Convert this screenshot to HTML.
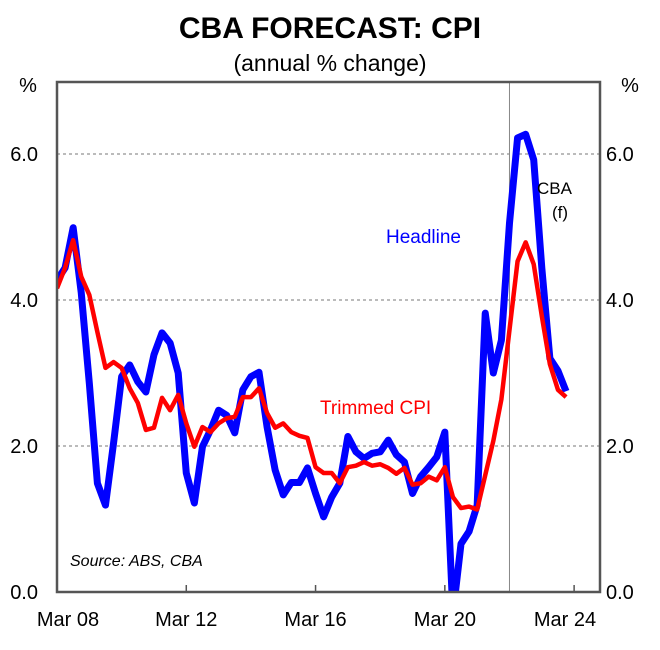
<!DOCTYPE html>
<html><head><meta charset="utf-8"><style>
body{margin:0;background:#fff;}
svg{display:block;font-family:"Liberation Sans",Arial,sans-serif;}
</style></head><body>
<svg id="chart" width="660" height="650" viewBox="0 0 660 650">
<text x="330" y="38" text-anchor="middle" font-size="30" font-weight="bold">CBA FORECAST: CPI</text>
<text x="330" y="71" text-anchor="middle" font-size="23">(annual % change)</text>
<text x="28" y="92" text-anchor="middle" font-size="20">%</text>
<text x="630" y="92" text-anchor="middle" font-size="20">%</text>
<g id="grid"></g>
<g id="ticks"></g>
<g id="series"></g>
<rect x="57" y="82" width="543" height="510" fill="none" stroke="#555" stroke-width="2.5"/>
<text x="386" y="243" font-size="19" fill="#0000ff">Headline</text>
<text x="320" y="414" font-size="19" fill="#ff0000">Trimmed CPI</text>
<text x="537" y="194" font-size="17">CBA</text>
<text x="552" y="218" font-size="17">(f)</text>
<text x="70" y="566" font-size="16" font-style="italic">Source: ABS, CBA</text>
</svg>
<script>
const headline=[4.27,4.44,4.99,4.1,2.86,1.49,1.19,2.04,2.95,3.11,2.88,2.74,3.25,3.55,3.41,3.0,1.63,1.22,1.99,2.22,2.49,2.42,2.18,2.77,2.95,3.01,2.26,1.67,1.33,1.5,1.5,1.7,1.35,1.03,1.3,1.49,2.13,1.92,1.83,1.9,1.92,2.08,1.88,1.78,1.35,1.58,1.71,1.85,2.19,-0.3,0.66,0.83,1.19,3.82,3.0,3.45,5.05,6.22,6.27,5.92,4.44,3.2,3.03,2.75];
const trimmed=[4.16,4.44,4.82,4.32,4.07,3.56,3.07,3.15,3.07,2.79,2.59,2.22,2.25,2.66,2.49,2.7,2.31,1.99,2.26,2.19,2.31,2.38,2.4,2.67,2.67,2.79,2.45,2.25,2.31,2.19,2.14,2.11,1.71,1.63,1.63,1.49,1.71,1.73,1.78,1.73,1.75,1.7,1.62,1.7,1.47,1.49,1.58,1.53,1.71,1.3,1.15,1.17,1.13,1.6,2.07,2.64,3.59,4.53,4.79,4.49,3.78,3.12,2.77,2.67];
const yTicks=[0,2,4,6];
const yTickLabels=["0.0","2.0","4.0","6.0"];
const xTickIdx=[0,16,32,48,64];
const xTickLabels=["Mar 08","Mar 12","Mar 16","Mar 20","Mar 24"];
const forecastStart=56;

const NS="http://www.w3.org/2000/svg";
const X0=57,DX=8.08,Y0=592,DY=73;
function xs(i){return X0+i*DX;}
function ys(v){return Y0-v*DY;}
function mk(tag,attrs,parent){const e=document.createElementNS(NS,tag);for(const k in attrs)e.setAttribute(k,attrs[k]);parent.appendChild(e);return e;}
const grid=document.getElementById('grid'),ticks=document.getElementById('ticks'),series=document.getElementById('series');
yTicks.forEach((v,k)=>{
  if(v>0){const g=mk('line',{x1:57,x2:600,y1:ys(v),y2:ys(v),stroke:'#777','stroke-width':1,'stroke-dasharray':'3,3'},grid);
  
  }
  const l=mk('text',{x:38,y:ys(v)+7,'text-anchor':'end','font-size':20},ticks);l.textContent=yTickLabels[k];
  
  
  const r=mk('text',{x:606,y:ys(v)+7,'font-size':20},ticks);r.textContent=yTickLabels[k];
  
  
});
xTickIdx.forEach((i,k)=>{
  const t=mk('line',{x1:xs(i),x2:xs(i),y1:592,y2:585,stroke:'#555','stroke-width':1.5},ticks);
  
  
  const l=mk('text',{x:Math.min(xs(i),565)+(k==0?11:0),y:626,'text-anchor':'middle','font-size':20},ticks);l.textContent=xTickLabels[k];
  
  
});
const fl=mk('line',{x1:xs(forecastStart),x2:xs(forecastStart),y1:82,y2:592,stroke:'#888','stroke-width':1},grid);


const cp=mk('clipPath',{id:'clip'},series);mk('rect',{x:57,y:82,width:543,height:510},cp);
function line(data,color,w,name){
  const p=mk('polyline',{points:data.map((v,i)=>xs(i)+','+ys(v)).join(' '),fill:'none',stroke:color,'stroke-width':w,'stroke-linejoin':'round','clip-path':'url(#clip)'},series);
  
  
}
line(headline,'#0000ff',7,'headline-series');
line(trimmed,'#ff0000',4.5,'trimmed-cpi-series');
</script>
</body></html>
